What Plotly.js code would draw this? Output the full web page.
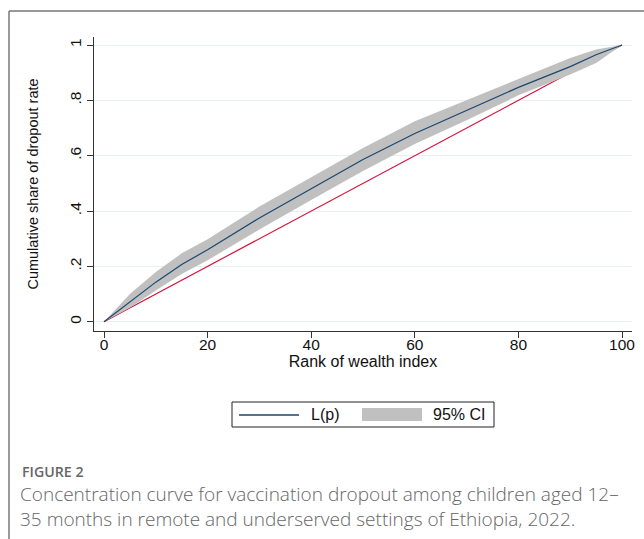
<!DOCTYPE html>
<html>
<head>
<meta charset="utf-8">
<script src="https://cdn.plot.ly/plotly-3.0.1.min.js"></script>
<style>html,body{margin:0;padding:0;background:#fff;}#chart{width:644px;height:539px;}</style>
</head>
<body>
<div id="chart"></div>
<script>
// Data
const rankX   = [0, 5, 10, 15, 20, 30, 40, 50, 60, 70, 80, 90, 95, 100];
const curveLp = [0, 0.072, 0.143, 0.207, 0.26, 0.375, 0.48, 0.586, 0.68, 0.763, 0.847, 0.922, 0.965, 1];
const ciUpper = [0, 0.1, 0.18, 0.247, 0.298, 0.416, 0.522, 0.628, 0.724, 0.8, 0.878, 0.953, 0.984, 1];
const ciLower = [0, 0.05, 0.113, 0.172, 0.222, 0.333, 0.44, 0.545, 0.642, 0.728, 0.818, 0.893, 0.935, 1];
const equalityX = [0, 100];
const equalityY = [0, 1];
const yTickVals = [0, 0.2, 0.4, 0.6, 0.8, 1];
const yTickText = ['0', '.2', '.4', '.6', '.8', '1'];
const xTickVals = [0, 20, 40, 60, 80, 100];
const legendLabels = ['L(p)', '95% CI'];

// pixel -> paper helpers
const W = 644, H = 539, ML = 94, MR = 12, MT = 37, MB = 208;
const PW = W - ML - MR, PH = H - MT - MB;
const px = x => (x - ML) / PW;
const py = y => (H - MB - y) / PH;

const blue = '#1a476f', red = '#d2143a', gray = '#c0c0c0';

const traces = [
  {x: equalityX, y: equalityY, mode: 'lines', line: {color: red, width: 1.2}, showlegend: false, hoverinfo: 'skip'},
  {x: rankX, y: ciLower, mode: 'lines', line: {width: 0, color: gray}, showlegend: false, hoverinfo: 'skip'},
  {x: rankX, y: ciUpper, mode: 'lines', fill: 'tonexty', fillcolor: gray, line: {width: 0, color: gray}, name: legendLabels[1], showlegend: false},
  {x: rankX, y: curveLp, mode: 'lines', line: {color: blue, width: 1.2}, name: legendLabels[0], showlegend: false}
];

const fam = 'Liberation Sans, Arial, sans-serif';
const axFont = {family: fam, size: 15.5, color: '#111'};

const layout = {
  width: W, height: H,
  margin: {l: ML, r: MR, t: MT, b: MB, pad: 0},
  paper_bgcolor: '#fff', plot_bgcolor: '#fff',
  showlegend: false,
  xaxis: {
    range: [-(104 - ML) / 5.18, (W - MR - 104) / 5.18],
    tickvals: xTickVals, ticks: 'outside', ticklen: 6, tickcolor: '#333',
    ticklabelstandoff: -7,
    showline: true, linecolor: '#333', linewidth: 1,
    showgrid: false, zeroline: false, tickfont: axFont,
    title: {text: 'Rank of wealth index', font: {family: fam, size: 16, color: '#111'}, standoff: 0}
  },
  yaxis: {
    range: [-(H - MB - 321.7) / 276.7, 1 + (45 - MT) / 276.7],
    tickvals: yTickVals, ticktext: yTickText, tickangle: -90,
    ticks: 'outside', ticklen: 6, tickcolor: '#333',
    showline: true, linecolor: '#333', linewidth: 1,
    showgrid: true, gridcolor: '#e8f0f2', gridwidth: 1, zeroline: false,
    tickfont: axFont,
    title: {text: 'Cumulative share of dropout rate', font: {family: fam, size: 14.5, color: '#111'}, standoff: 24}
  },
  shapes: [
    // page frame
    {type: 'line', xref: 'paper', yref: 'paper', x0: px(9), y0: py(11), x1: px(W + 2), y1: py(11), line: {color: '#777', width: 1.5}},
    {type: 'line', xref: 'paper', yref: 'paper', x0: px(9), y0: py(11), x1: px(9), y1: py(H + 2), line: {color: '#777', width: 1.5}},
    // legend box
    {type: 'rect', xref: 'paper', yref: 'paper', x0: px(232), y0: py(402), x1: px(494), y1: py(427), line: {color: '#222', width: 1}, fillcolor: 'rgba(0,0,0,0)'},
    {type: 'line', xref: 'paper', yref: 'paper', x0: px(239), y0: py(415), x1: px(299), y1: py(415), line: {color: blue, width: 1.3}},
    {type: 'rect', xref: 'paper', yref: 'paper', x0: px(362), y0: py(408), x1: px(422), y1: py(421), line: {width: 0}, fillcolor: gray}
  ],
  annotations: [
    {xref: 'paper', yref: 'paper', x: px(309), y: py(415), xanchor: 'left', yanchor: 'middle', showarrow: false, text: legendLabels[0], font: {family: fam, size: 16, color: '#111'}},
    {xref: 'paper', yref: 'paper', x: px(431), y: py(415), xanchor: 'left', yanchor: 'middle', showarrow: false, text: legendLabels[1], font: {family: fam, size: 16, color: '#111'}},
    {xref: 'paper', yref: 'paper', x: px(20), y: py(471), xanchor: 'left', yanchor: 'middle', showarrow: false, text: 'FIGURE 2', font: {family: 'Open Sans, sans-serif', size: 14.2, color: '#666', weight: 600}},
    {xref: 'paper', yref: 'paper', x: px(18), y: py(506.5), xanchor: 'left', yanchor: 'middle', align: 'left', showarrow: false,
     text: 'Concentration curve for vaccination dropout among children aged 12–<br>35 months in remote and underserved settings of Ethiopia, 2022.',
     font: {family: 'Open Sans, sans-serif', size: 19, color: '#666', weight: 300}}
  ]
};

Plotly.newPlot('chart', traces, layout, {staticPlot: true, displayModeBar: false});
</script>
</body>
</html>
